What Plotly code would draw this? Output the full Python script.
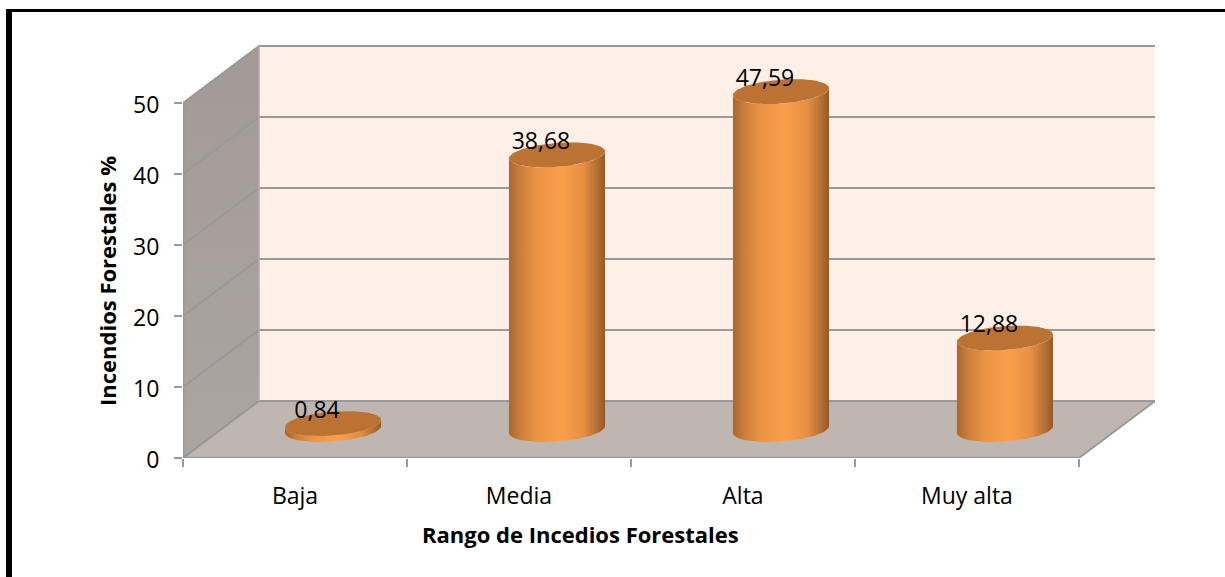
import numpy as np
import plotly.graph_objects as go

categories = ["Baja", "Media", "Alta", "Muy alta"]
values = [0.84, 38.68, 47.59, 12.88]
y_ticks = [0, 10, 20, 30, 40, 50]
x_title = "Rango de Incedios Forestales"
y_title = "Incendios Forestales %"

W, H = 1225, 577
L, R, T, B = 183, 1155, 45, 458
PX_X = (1078 - 183) / 4      # pixels per category
PX_Y = (458 - 103) / 50      # pixels per value unit
DX = 76 / PX_X               # depth of the 3D box, in axis units
DY = 57 / PX_Y
XMIN, XMAX = -0.5, 3.5
GRAY = "#999999"
FONT = "Open Sans"

fig = go.Figure()


def poly(x, y, fill=None, line=None, width=2, grad=None):
    kw = dict(x=x, y=y, mode="lines", hoverinfo="skip", showlegend=False, cliponaxis=False)
    if fill or grad:
        kw["fill"] = "toself"
        kw["line"] = dict(width=0, color="rgba(0,0,0,0)")
        if fill:
            kw["fillcolor"] = fill
        if grad:
            kw["fillgradient"] = grad
    if line:
        kw["line"] = dict(color=line, width=width)
    fig.add_trace(go.Scatter(**kw))


# walls and floor
poly([XMIN + DX, XMAX + DX, XMAX + DX, XMIN + DX, XMIN + DX],
     [DY, DY, 50 + DY, 50 + DY, DY], fill="#FEEFE7")
poly([XMIN, XMIN + DX, XMIN + DX, XMIN, XMIN], [0, DY, 50 + DY, 50, 0],
     grad=dict(type="vertical", colorscale=[[0, "#ABA5A1"], [1, "#A29A96"]]))
poly([XMIN, XMAX, XMAX + DX, XMIN + DX, XMIN], [0, 0, DY, DY, 0], fill="#BFB5B1")

# gridlines
for v in y_ticks:
    poly([XMIN, XMIN + DX, XMAX + DX], [v, v + DY, v + DY], line=GRAY, width=2)
poly([XMIN + DX, XMIN + DX], [DY, 50 + DY], line="#B5B0AC", width=1.5)
poly([XMAX, XMAX + DX], [0, DY], line=GRAY, width=2)
# front axis lines
poly([XMIN, XMAX], [0, 0], line=GRAY, width=2.5)
poly([XMIN, XMIN], [0, 50], line=GRAY, width=2.5)

# cylinders
t = np.linspace(0, np.pi, 60)
A = 48 / PX_X
Bv = 12 / PX_Y
S = 3.5 / PX_Y
BODY = [[0, "#A96730"], [0.12, "#CC803B"], [0.3, "#EC9444"], [0.55, "#FB9F4C"],
        [0.78, "#E48E42"], [0.92, "#B26F33"], [1, "#935929"]]
for i, v in enumerate(values):
    cx = i + DX / 2
    y0 = DY / 2
    y1 = y0 + v
    # body: bottom arc left to right, then top arc right to left
    bx = cx - A * np.cos(t)
    by = y0 - S * np.cos(t) - Bv * np.sin(t)
    tx = cx + A * np.cos(t)
    ty = y1 + S * np.cos(t) - Bv * np.sin(t)
    poly(np.r_[bx, tx, bx[0]], np.r_[by, ty, by[0]],
         grad=dict(type="horizontal", colorscale=BODY))
    # cap
    a = np.linspace(0, 2 * np.pi, 120)
    poly(cx + A * np.cos(a), y1 + S * np.cos(a) + Bv * np.sin(a), fill="#BC7233")

# value labels
fig.add_trace(go.Scatter(
    x=[i + DX / 2 - 16 / PX_X for i in range(len(values))],
    y=[v + DY / 2 + 1.6 for v in values],
    mode="text",
    text=[f"{v:.2f}".replace(".", ",") for v in values],
    textposition="middle center",
    textfont=dict(family=FONT, size=23, color="#000000"),
    hoverinfo="skip", showlegend=False, cliponaxis=False,
))

fig.update_layout(
    width=W, height=H, autosize=False,
    margin=dict(l=L, r=W - R, t=T, b=H - B, pad=0),
    paper_bgcolor="white", plot_bgcolor="rgba(0,0,0,0)",
    showlegend=False,
    font=dict(family=FONT, color="#000000"),
    xaxis=dict(
        range=[XMIN, XMAX + DX], showgrid=False, zeroline=False, showline=False,
        tickmode="array", tickvals=list(range(len(categories))), ticktext=categories,
        ticks="", tickfont=dict(family=FONT, size=23), ticklabelstandoff=22,
        minor=dict(tickmode="array", tickvals=[i - 0.5 for i in range(len(categories) + 1)],
                   ticks="outside", ticklen=8, tickwidth=1.5, tickcolor=GRAY, showgrid=False),
    ),
    yaxis=dict(
        range=[0, (B - T) / PX_Y], showgrid=False, zeroline=False, showline=False,
        tickmode="array", tickvals=y_ticks, ticks="outside", ticklen=8, tickwidth=1.5,
        tickcolor=GRAY, tickfont=dict(family=FONT, size=23),
        ticklabelstandoff=10, ticklabelshift=2,
    ),
    annotations=[
        dict(text=f"<b>{x_title}</b>", xref="paper", yref="paper",
             x=(580 - L) / (R - L), y=(B - 534) / (B - T), showarrow=False,
             xanchor="center", yanchor="middle", font=dict(family=FONT, size=22)),
        dict(text=f"<b>{y_title}</b>", xref="paper", yref="paper", textangle=-90,
             x=(107 - L) / (R - L), y=(B - 281) / (B - T), showarrow=False,
             xanchor="center", yanchor="middle", font=dict(family=FONT, size=22)),
    ],
    shapes=[
        dict(type="rect", xref="paper", yref="paper", line_width=0, fillcolor="#000000",
             x0=(6 - L) / (R - L), x1=(12 - L) / (R - L),
             y0=(B - H) / (B - T), y1=(B - 9) / (B - T)),
        dict(type="rect", xref="paper", yref="paper", line_width=0, fillcolor="#000000",
             x0=(6 - L) / (R - L), x1=(W - L) / (R - L),
             y0=(B - 12) / (B - T), y1=(B - 9) / (B - T)),
    ],
)

fig.write_html("out.html", config={"displayModeBar": False},
               post_script="document.body.style.margin='0';document.body.style.overflow='hidden';")
